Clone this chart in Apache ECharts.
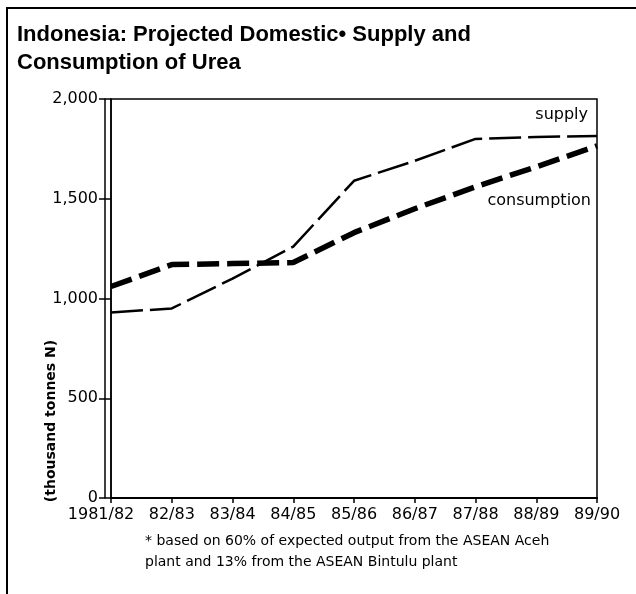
<!DOCTYPE html>
<html>
<head>
<meta charset="utf-8">
<script src="https://cdn.jsdelivr.net/npm/echarts@6/dist/echarts.min.js"></script>
<style>
  html, body { margin: 0; padding: 0; background: #fff; }
  #chart { width: 636px; height: 594px; }
</style>
</head>
<body>
<div id="chart"></div>
<script>
// 年度
const categories = ['1981/82', '82/83', '83/84', '84/85', '85/86', '86/87', '87/88', '88/89', '89/90']
// 供应 (thousand tonnes N)
const supply = [930, 950, 1100, 1260, 1590, 1690, 1800, 1810, 1815]
// 消费
const consumption = [1060, 1170, 1175, 1180, 1330, 1450, 1560, 1660, 1765]
const yTicks = [0, 500, 1000, 1500, 2000]

const font = '"Liberation Sans", Arial, sans-serif'
const font2 = '"DejaVu Sans", sans-serif'
const chart = echarts.init(document.getElementById('chart'))

const option = {
  backgroundColor: '#fff',
  animation: false,
  grid: {
    left: 111,
    right: 39,
    top: 99,
    bottom: 96,
    show: true,
    borderColor: '#000',
    borderWidth: 1.5,
  },
  xAxis: {
    type: 'category',
    data: categories,
    boundaryGap: false,
    axisLine: { lineStyle: { color: '#000', width: 2 } },
    axisTick: { show: true, length: 5, lineStyle: { color: '#000', width: 1.5 } },
    axisLabel: {
      color: '#000',
      fontFamily: font2,
      fontSize: 16,
      margin: 9,
      interval: 0,
      // 第一个标签让斜杠对准刻度
      formatter: (v, i) => (i === 0 ? '{first|' + v + '}' : v),
      rich: {
        first: { fontFamily: font2, fontSize: 16, color: '#000', padding: [0, 20, 0, 0] },
      },
    },
  },
  yAxis: [
    {
      type: 'value',
      min: 0,
      max: 2000,
      interval: 500,
      axisLine: { show: true, lineStyle: { color: '#000', width: 1.5 } },
      axisTick: { show: true, length: 12, lineStyle: { color: '#000', width: 1.5 } },
      splitLine: { show: false },
      axisLabel: {
        color: '#000',
        fontFamily: font2,
        fontSize: 16,
        margin: 13,
        padding: [0, 0, 7, 0],
        formatter: v => (yTicks.indexOf(v) >= 0 ? v.toLocaleString('en-US') : ''),
      },
    },
    {
      // 左侧双线
      type: 'value',
      min: 0,
      max: 2000,
      position: 'left',
      offset: 6,
      axisLine: { show: true, lineStyle: { color: '#000', width: 1.5 } },
      axisTick: { show: false },
      axisLabel: { show: false },
      splitLine: { show: false },
    },
  ],
  series: [
    {
      name: 'supply',
      type: 'line',
      data: supply,
      symbol: 'none',
      lineStyle: { color: '#000', width: 2.5, type: [32, 7] },
      z: 3,
    },
    {
      name: 'consumption',
      type: 'line',
      data: consumption,
      symbol: 'none',
      lineStyle: { color: '#000', width: 5.5, type: [22, 8] },
      z: 4,
    },
  ],
  graphic: [
    // 外框
    {
      type: 'polyline',
      shape: { points: [[7, 594], [7, 8], [640, 8]] },
      style: { stroke: '#000', lineWidth: 2, fill: null },
    },
    {
      type: 'text',
      left: 17,
      top: 21,
      style: {
        text: 'Indonesia: Projected Domestic\u2022 Supply and\nConsumption of Urea',
        font: 'bold 22px ' + font,
        fill: '#000',
        lineHeight: 28,
      },
    },
    {
      type: 'text',
      x: 51,
      y: 421,
      rotation: Math.PI / 2,
      style: {
        text: '(thousand tonnes N)',
        font: 'bold 14px ' + font2,
        fill: '#000',
        align: 'center',
        verticalAlign: 'middle',
      },
    },
    {
      type: 'text',
      right: 48,
      top: 107,
      style: { text: 'supply', font: '16px ' + font2, fill: '#000' },
    },
    {
      type: 'text',
      right: 45,
      top: 193,
      style: { text: 'consumption', font: '16px ' + font2, fill: '#000' },
    },
    {
      type: 'text',
      left: 145,
      top: 531,
      style: {
        text: '* based on 60% of expected output from the ASEAN Aceh\nplant and 13% from the ASEAN Bintulu plant',
        font: '14px ' + font2,
        fill: '#000',
        lineHeight: 21,
      },
    },
  ],
}

chart.setOption(option)
</script>
</body>
</html>
